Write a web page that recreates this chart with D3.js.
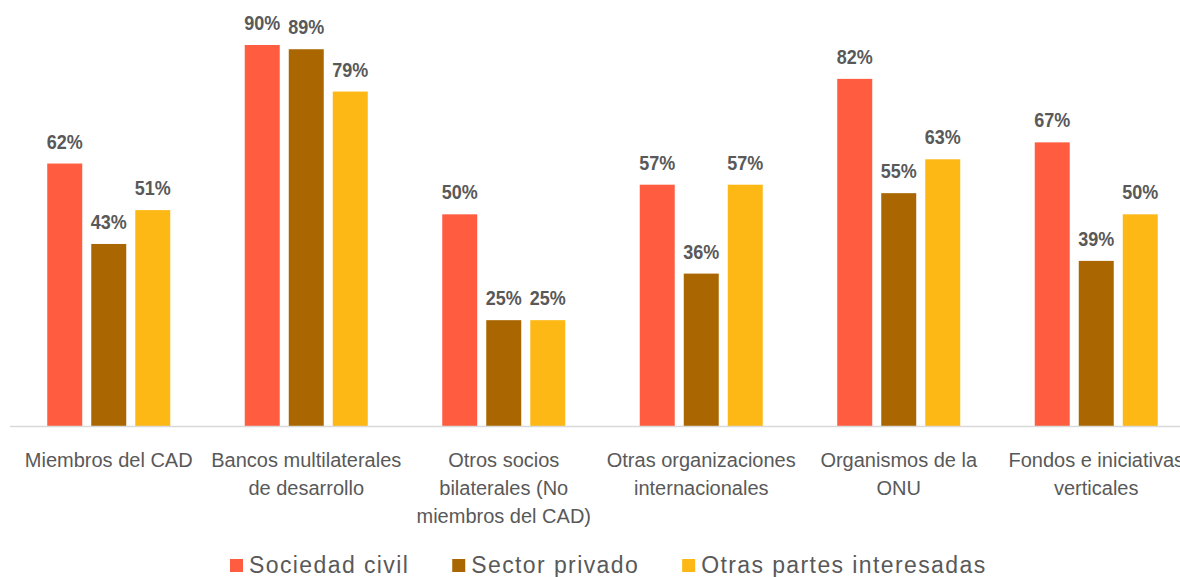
<!DOCTYPE html>
<html>
<head>
<meta charset="utf-8">
<script src="https://cdn.jsdelivr.net/npm/d3@7"></script>
<style>
  body { margin: 0; background: #fff; }
  svg { display: block; font-family: "Liberation Sans", Arial, sans-serif; }
</style>
</head>
<body>
<svg id="chart"></svg>
<script>
const categories = [
    ['Miembros del CAD'],
    ['Bancos multilaterales', 'de desarrollo'],
    ['Otros socios', 'bilaterales (No', 'miembros del CAD)'],
    ['Otras organizaciones', 'internacionales'],
    ['Organismos de la', 'ONU'],
    ['Fondos e iniciativas', 'verticales']
];
const series = ['Sociedad civil', 'Sector privado', 'Otras partes interesadas'];
const colors = ['#FF5C40', '#AA6600', '#FDB815'];
const sociedadCivil = [62, 90, 50, 57, 82, 67];
const sectorPrivado = [43, 89, 25, 36, 55, 39];
const otrasPartes = [51, 79, 25, 57, 63, 50];

const values = [sociedadCivil, sectorPrivado, otrasPartes];

const width = 1180;
const height = 577;
const baseY = 426;

const svg = d3.select('svg#chart')
    .attr('width', width)
    .attr('height', height);

const catKeys = categories.map(c => c.join(' '));

const x = d3.scaleBand()
    .domain(catKeys)
    .range([10, 1195])
    .padding(0);

const xs = d3.scaleBand()
    .domain(series)
    .range([-61.5, 61.5])
    .paddingInner(0.205);

const y = d3.scaleLinear()
    .domain([0, 90])
    .range([baseY, 45]);

const rows = [];
catKeys.forEach((k, i) => {
    series.forEach((s, j) => {
        rows.push({cat: k, series: s, color: colors[j], value: values[j][i]});
    });
});

// bars
svg.append('g').attr('class', 'bars')
    .selectAll('rect')
    .data(rows)
    .join('rect')
    .attr('x', d => x(d.cat) + x.bandwidth() / 2 + xs(d.series))
    .attr('y', d => y(d.value))
    .attr('width', xs.bandwidth())
    .attr('height', d => baseY - y(d.value))
    .attr('fill', d => d.color);

// value labels (slightly tall, like the original rendering)
svg.append('g').attr('class', 'labels')
    .selectAll('text')
    .data(rows)
    .join('text')
    .attr('transform', d => {
        const cx = x(d.cat) + x.bandwidth() / 2 + xs(d.series) + xs.bandwidth() / 2;
        return `translate(${cx},${y(d.value) - 15}) scale(1,1.1)`;
    })
    .attr('text-anchor', 'middle')
    .attr('font-size', 18)
    .attr('font-weight', 'bold')
    .attr('fill', '#595959')
    .text(d => d.value + '%');

// axis line
svg.append('line')
    .attr('x1', 10)
    .attr('x2', width)
    .attr('y1', baseY + 0.5)
    .attr('y2', baseY + 0.5)
    .attr('stroke', '#d9d9d9')
    .attr('stroke-width', 1.5);

// category labels
const catG = svg.append('g').attr('class', 'cats');
categories.forEach((lines, i) => {
    const t = catG.append('text')
        .attr('x', x(catKeys[i]) + x.bandwidth() / 2)
        .attr('y', 467)
        .attr('text-anchor', 'middle')
        .attr('font-size', 20)
        .attr('fill', '#595959');
    lines.forEach((l, n) => {
        t.append('tspan')
            .attr('x', x(catKeys[i]) + x.bandwidth() / 2)
            .attr('dy', n === 0 ? 0 : 28)
            .text(l);
    });
});

// legend
const legend = svg.append('g').attr('class', 'legend');
let lx = 230;
series.forEach((s, j) => {
    legend.append('rect')
        .attr('x', lx)
        .attr('y', 559)
        .attr('width', 13)
        .attr('height', 13)
        .attr('fill', colors[j]);
    const t = legend.append('text')
        .attr('x', lx + 19)
        .attr('y', 573)
        .attr('font-size', 23)
        .attr('letter-spacing', 1.4)
        .attr('fill', '#595959')
        .text(s);
    lx += 19 + t.node().getComputedTextLength() + 43;
});
</script>
</body>
</html>
